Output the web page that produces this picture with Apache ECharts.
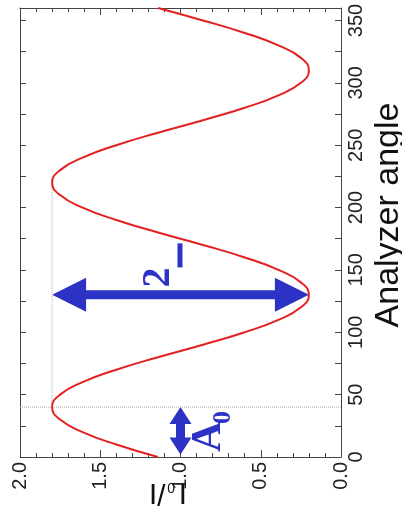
<!DOCTYPE html>
<html><head><meta charset="utf-8">
<script src="https://cdn.jsdelivr.net/npm/echarts@6/dist/echarts.min.js"></script>
<style>html,body{margin:0;padding:0;background:#fff}#c{width:402px;height:509px}</style>
</head><body><div id="c"></div>
<script>
// ---- data ----
const angles = [0,10,20,30,40,50,60,70,80,90,100,110,120,130,140,150,160,170,180,190,200,210,220,230,240,250,260,270,280,290,300,310,320,330,340,350,360];
const intensity = [1.14,1.40,1.61,1.75,1.80,1.75,1.61,1.40,1.14,0.86,0.60,0.39,0.25,0.20,0.25,0.39,0.60,0.86,1.14,1.40,1.61,1.75,1.80,1.75,1.61,1.40,1.14,0.86,0.60,0.39,0.25,0.20,0.25,0.39,0.60,0.86,1.14];
const angleLabels = [0,50,100,150,200,250,300,350];
const angleTicks = [0,25,50,75,100,125,150,175,200,225,250,275,300,325,350];
const guideH = [[0,40],[2,40]];
const guideV = [[1.8,40],[1.8,220]];
const arrowFrom = [[1.8,130],[1.0,40]];
const arrowTo = [[0.2,130],[1.0,2]];
const labelAnchor = [[1.05,136],[0.735,4]];
const labelText = ['2','A'];
const labelSub = ['_','0'];

const RED = '#e3201f', BLUE = '#2c32c4', AX = '#444', TXT = '#222';
const chart = echarts.init(document.getElementById('c'), null, {renderer:'canvas'});

function arrowItem(params, api){
  const i = params.dataIndex;
  const p1 = api.coord([api.value(0), api.value(1)]);
  const p2 = api.coord([api.value(2), api.value(3)]);
  const hl = i===0 ? 34 : 17, hw = i===0 ? 34 : 22, sw = 9;
  const dx = p2[0]-p1[0], dy = p2[1]-p1[1], L = Math.hypot(dx,dy);
  const ux = dx/L, uy = dy/L, nx = -uy, ny = ux;
  const h1 = [p1[0]+ux*hl, p1[1]+uy*hl], h2 = [p2[0]-ux*hl, p2[1]-uy*hl];
  const P = (b,s)=>[b[0]+nx*s, b[1]+ny*s];
  const pts = [p1, P(h1,hw/2), P(h1,sw/2), P(h2,sw/2), P(h2,hw/2), p2, P(h2,-hw/2), P(h2,-sw/2), P(h1,-sw/2), P(h1,-hw/2)];
  return {type:'polygon', shape:{points:pts}, style:{fill:BLUE}};
}
function labelItem(params, api){
  const i = params.dataIndex;
  const p = api.coord([api.value(0), api.value(1)]);
  const f = 'bold 40px "Liberation Serif"';
  let children;
  if (i===0){
    children = [
      {type:'text', x:0, y:-0.34*40, style:{text:labelText[0], font:f, fill:BLUE, textAlign:'left', textVerticalAlign:'middle'}},
      {type:'rect', shape:{x:20, y:5, width:24, height:5}, style:{fill:BLUE}}
    ];
  } else {
    children = [
      {type:'text', x:0, y:-0.34*42, style:{text:labelText[1], font:'bold 42px "Liberation Serif"', fill:BLUE, textAlign:'left', textVerticalAlign:'middle'}},
      {type:'text', x:28, y:9-0.34*26, style:{text:labelSub[1], font:'bold 26px "Liberation Serif"', fill:BLUE, textAlign:'left', textVerticalAlign:'middle'}}
    ];
  }
  return {type:'group', x:p[0], y:p[1], rotation:Math.PI/2, children};
}

const valAxisBase = {
  type:'value', min:0, max:2, interval:0.5, inverse:true,
  axisLine:{show:true, onZero:false, lineStyle:{color:AX, width:1}},
  axisTick:{show:true, inside:true, length:7, lineStyle:{color:AX}},
  minorTick:{show:true, splitNumber:5, length:4, lineStyle:{color:AX}},
  splitLine:{show:false}, minorSplitLine:{show:false}
};
const angAxisBase = {
  type:'value', min:0, max:360,
  axisLine:{show:true, onZero:false, lineStyle:{color:AX, width:1}},
  axisTick:{show:true, inside:true, length:6, customValues:angleTicks, lineStyle:{color:AX}},
  splitLine:{show:false}
};

chart.setOption({
  animation:false,
  backgroundColor:'#fff',
  grid:{left:20, top:8, width:321, height:449, containLabel:false, outerBoundsMode:'none'},
  xAxis:[
    Object.assign({}, valAxisBase, {position:'bottom',
      axisLabel:{show:true, rotate:90, margin:5, fontSize:20, fontFamily:'Liberation Sans', color:TXT, formatter:v=>v.toFixed(1)}}),
    Object.assign({}, valAxisBase, {position:'top', axisLabel:{show:false}})
  ],
  yAxis:[
    Object.assign({}, angAxisBase, {position:'right',
      axisLabel:{show:true, rotate:90, margin:5, fontSize:20, fontFamily:'Liberation Sans', color:TXT, customValues:angleLabels}}),
    Object.assign({}, angAxisBase, {position:'left', axisLabel:{show:false}})
  ],
  series:[
    {type:'line', data:guideH, symbol:'none', silent:true, lineStyle:{color:'#b0b0b0', width:1, type:'dotted'}},
    {type:'line', data:guideV, symbol:'none', silent:true, lineStyle:{color:'#b0b0b0', width:1, type:'dotted'}},
    {type:'line', data:angles.map((a,i)=>[intensity[i], a]), smooth:true, symbol:'none', lineStyle:{color:RED, width:2}},
    {type:'custom', renderItem:arrowItem, encode:{x:[0,2], y:[1,3]}, data:arrowFrom.map((f,i)=>[f[0],f[1],arrowTo[i][0],arrowTo[i][1]])},
    {type:'custom', renderItem:labelItem, encode:{x:0, y:1}, data:labelAnchor}
  ],
  graphic:[
    {type:'text', x:389, y:215, rotation:Math.PI/2, style:{text:'Analyzer angle', font:'34px "Liberation Sans"', fill:'#111', textAlign:'center', textVerticalAlign:'middle'}},
    {type:'group', x:167, y:481.5, rotation:Math.PI, children:[
      {type:'text', x:-20, y:-0.3465*30, style:{text:'I', font:'30px "Liberation Sans"', fill:'#111', textAlign:'left', textVerticalAlign:'middle'}},
      {type:'text', x:-8, y:-1-0.3465*14, style:{text:'0', font:'14px "Liberation Sans"', fill:'#111', textAlign:'left', textVerticalAlign:'middle'}},
      {type:'text', x:1.5, y:-0.3465*30, style:{text:'/I', font:'30px "Liberation Sans"', fill:'#111', textAlign:'left', textVerticalAlign:'middle'}}
    ]}
  ]
});
</script></body></html>
